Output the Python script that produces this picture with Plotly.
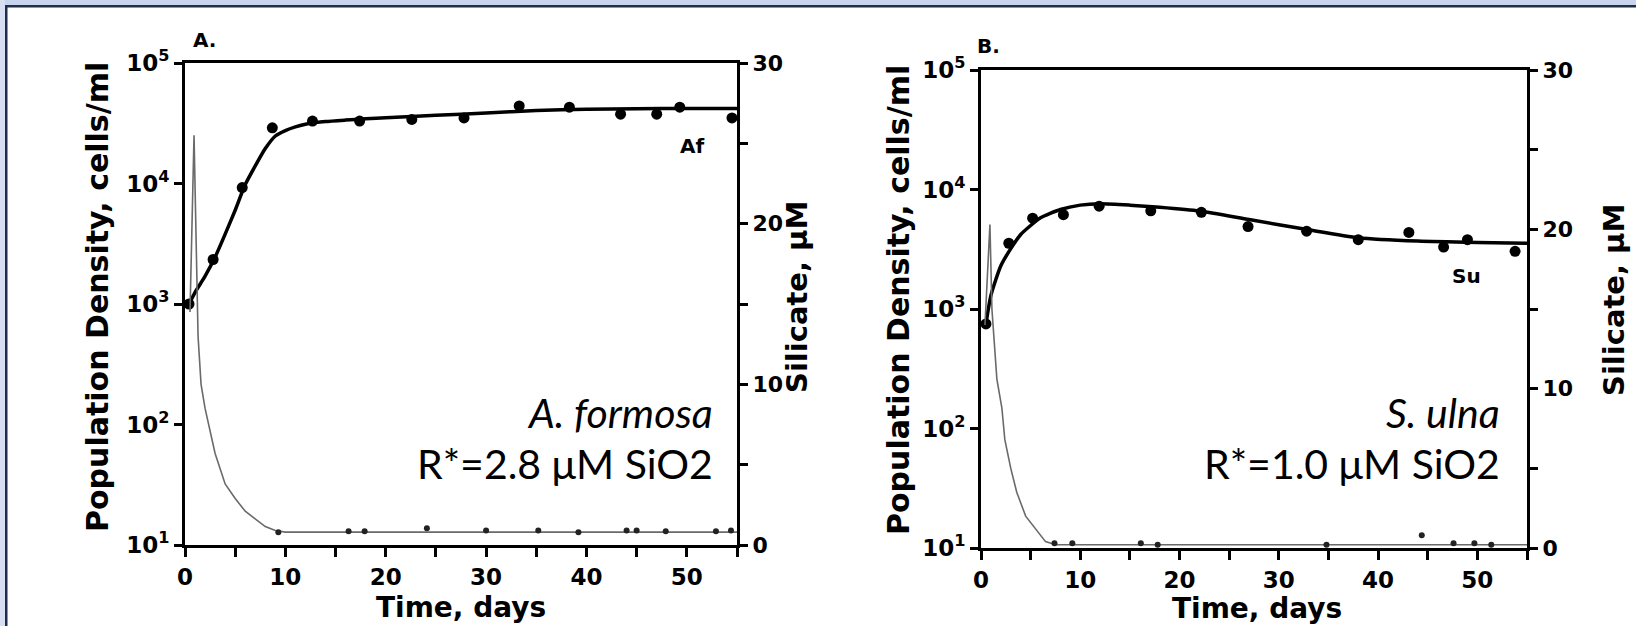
import plotly.graph_objects as go

# ---------------- data ----------------
# Panel A: Asterionella formosa
a_pt_days = [0.4, 2.8, 5.7, 8.7, 12.7, 17.4, 22.6, 27.8, 33.3, 38.3, 43.4, 47.0, 49.3, 54.5]
a_pt_cells = [1000, 2340, 9250, 29000, 33000, 33000, 34000, 35000, 44000, 43000, 37600, 37600, 43000, 35000]
a_fit_days = [0.4, 1, 2, 3, 4, 5, 6, 7, 8, 9, 10, 11, 12, 13, 14, 16, 18, 20, 25, 30, 35, 40, 45, 50, 55]
a_fit_cells = [1000, 1250, 1700, 2450, 3800, 6000, 9800, 14000, 19500, 24800, 27500, 29500, 31000,
               32000, 32700, 33600, 34400, 35100, 36800, 38500, 40300, 41300, 41800, 42000, 42000]
a_si_days = [0.5, 0.9, 1.3, 1.6, 2.0, 2.6, 3.0, 4.0, 5.0, 6.0, 7.0, 8.0, 9.0, 10.0, 20.0, 55.0]
a_si_vals = [14.5, 25.5, 13.0, 10.0, 8.5, 6.8, 5.7, 3.8, 2.9, 2.1, 1.6, 1.15, 0.9, 0.8, 0.8, 0.8]
a_si_pt_days = [9.3, 16.3, 17.9, 24.1, 30.0, 35.2, 39.2, 44.0, 45.0, 47.9, 52.9, 54.4]
a_si_pt_vals = [0.8, 0.85, 0.85, 1.05, 0.9, 0.9, 0.8, 0.9, 0.9, 0.85, 0.85, 0.9]

# Panel B: Synedra ulna
b_pt_days = [0.5, 2.8, 5.2, 8.3, 11.9, 17.1, 22.2, 26.9, 32.8, 38.0, 43.1, 46.6, 49.0, 53.8]
b_pt_cells = [750, 3550, 5750, 6150, 7250, 6630, 6440, 4900, 4480, 3800, 4370, 3300, 3800, 3040]
b_fit_days = [0.5, 1, 2, 3, 4, 5, 6, 8, 10, 12, 15, 18, 22, 27, 33, 38, 44, 50, 55]
b_fit_cells = [750, 1300, 2300, 3200, 4200, 5000, 5800, 6800, 7400, 7600, 7400, 7100, 6600,
               5600, 4600, 3950, 3700, 3600, 3550]
b_si_days = [0.4, 0.9, 1.1, 1.6, 2.1, 2.4, 3.0, 3.6, 4.5, 5.8, 6.5, 7.5, 55.0]
b_si_vals = [14.0, 20.3, 15.0, 10.6, 8.8, 6.8, 5.0, 3.5, 2.0, 1.0, 0.4, 0.2, 0.2]
b_si_pt_days = [7.4, 9.2, 16.1, 17.8, 34.8, 44.4, 47.6, 49.7, 51.4]
b_si_pt_vals = [0.3, 0.3, 0.3, 0.2, 0.2, 0.8, 0.3, 0.3, 0.2]

x_tick_vals = [0, 10, 20, 30, 40, 50]
x_tick_text = ["0", "10", "20", "30", "40", "50"]
x_minor_vals = [5, 15, 25, 35, 45, 55]
y_tick_vals = [10, 100, 1000, 10000, 100000]
y_tick_text = ["10<sup>1</sup>", "10<sup>2</sup>", "10<sup>3</sup>", "10<sup>4</sup>", "10<sup>5</sup>"]
si_tick_vals = [0, 10, 20, 30]
si_tick_text = ["0", "10", "20", "30"]
si_minor_vals = [5, 15, 25]

# ---------------- figure ----------------
W, H = 1636, 626
TICKFONT = dict(family="DejaVu Sans", size=23, color="black", weight=700)
SITICKFONT = dict(family="DejaVu Sans", size=22, color="black", weight=700)
fig = go.Figure()

def add_panel(xa, ya, ya2, fit_d, fit_c, pt_d, pt_c, si_d, si_v, sip_d, sip_v):
    fig.add_trace(go.Scatter(x=si_d, y=si_v, mode="lines", xaxis=xa, yaxis=ya2,
                             line=dict(color="#6a6a6a", width=1.6), showlegend=False))
    fig.add_trace(go.Scatter(x=sip_d, y=sip_v, mode="markers", xaxis=xa, yaxis=ya2,
                             marker=dict(color="#222", size=6), showlegend=False))
    fig.add_trace(go.Scatter(x=fit_d, y=fit_c, mode="lines", xaxis=xa, yaxis=ya,
                             line=dict(color="black", width=3.5, shape="spline", smoothing=0.6),
                             showlegend=False))
    fig.add_trace(go.Scatter(x=pt_d, y=pt_c, mode="markers", xaxis=xa, yaxis=ya,
                             marker=dict(color="black", size=11), showlegend=False))

add_panel("x", "y", "y2", a_fit_days, a_fit_cells, a_pt_days, a_pt_cells,
          a_si_days, a_si_vals, a_si_pt_days, a_si_pt_vals)
add_panel("x2", "y3", "y4", b_fit_days, b_fit_cells, b_pt_days, b_pt_cells,
          b_si_days, b_si_vals, b_si_pt_days, b_si_pt_vals)

def px(v):
    return v / W

def py(v):
    return 1 - v / H

common_x = dict(range=[0, 55], showline=True, linewidth=3, linecolor="black", mirror=True,
                ticks="outside", ticklen=9, tickwidth=3, tickcolor="black",
                tickmode="array", tickvals=x_tick_vals, ticktext=x_tick_text, tickfont=TICKFONT,
                minor=dict(tickmode="array", tickvals=x_minor_vals, ticks="outside", ticklen=9,
                           tickwidth=3, tickcolor="black", showgrid=False),
                showgrid=False, zeroline=False, automargin=False)
common_y = dict(type="log", range=[1, 5], showline=True, linewidth=3, linecolor="black",
                ticks="outside", ticklen=8, tickwidth=3, tickcolor="black",
                tickmode="array", tickvals=y_tick_vals, ticktext=y_tick_text, tickfont=TICKFONT,
                showgrid=False, zeroline=False, automargin=False)
common_si = dict(range=[0, 30], showline=True, linewidth=3, linecolor="black", side="right",
                 ticks="outside", ticklen=8, tickwidth=3, tickcolor="black",
                 tickmode="array", tickvals=si_tick_vals, ticktext=si_tick_text, tickfont=SITICKFONT,
                 minor=dict(tickmode="array", tickvals=si_minor_vals, ticks="outside", ticklen=8,
                            tickwidth=3, tickcolor="black", showgrid=False),
                 showgrid=False, zeroline=False, automargin=False)

fig.update_layout(
    width=W, height=H, margin=dict(l=0, r=0, t=0, b=0, pad=0, autoexpand=False),
    paper_bgcolor="white", plot_bgcolor="white",
    xaxis=dict(domain=[px(185), px(737)], anchor="y", **common_x),
    yaxis=dict(domain=[py(545), py(63)], anchor="x", **common_y),
    yaxis2=dict(overlaying="y", anchor="x", **common_si),
    xaxis2=dict(domain=[px(981), px(1527)], anchor="y3", **common_x),
    yaxis3=dict(domain=[py(548), py(70)], anchor="x2", **common_y),
    yaxis4=dict(overlaying="y3", anchor="x2", **common_si),
)

YTITLEFONT = dict(family="DejaVu Sans", size=30, color="black", weight=700)
SITITLEFONT = dict(family="DejaVu Sans", size=29, color="black", weight=700)
XTITLEFONT = dict(family="DejaVu Sans", size=28, color="black", weight=700)
NOTEFONT = dict(family="Lato", size=41, color="black")
ann = []
def A(x, y, text, font, angle=0, xanchor="center", yanchor="middle"):
    ann.append(dict(xref="paper", yref="paper", x=px(x), y=py(y), text=text, showarrow=False,
                    font=font, textangle=angle, xanchor=xanchor, yanchor=yanchor, borderpad=0))

# panel letters
A(192, 40, "A.", dict(family="DejaVu Sans", size=20, color="black", weight=700), xanchor="left")
A(976, 46, "B.", dict(family="DejaVu Sans", size=20, color="black", weight=700), xanchor="left")
# axis titles
A(97, 297, "Population Density, cells/ml", YTITLEFONT, angle=-90)
A(797, 297, "Silicate, \u03bcM", SITITLEFONT, angle=-90)
A(898, 300, "Population Density, cells/ml", YTITLEFONT, angle=-90)
A(1614, 300, "Silicate, \u03bcM", SITITLEFONT, angle=-90)
A(461, 607, "Time, days", XTITLEFONT)
A(1257, 608, "Time, days", XTITLEFONT)
# curve labels
A(692, 146, "Af", dict(family="DejaVu Sans", size=20, color="black", weight=700))
A(1466, 276, "Su", dict(family="DejaVu Sans", size=20, color="black", weight=700))
# species notes (first line sits on top of the second)
A(714, 438, "<i>A. formosa</i>", NOTEFONT, xanchor="right", yanchor="bottom")
A(714, 438, "R*=2.8 \u03bcM SiO2", NOTEFONT, xanchor="right", yanchor="top")
A(1501, 438, "<i>S. ulna</i>", NOTEFONT, xanchor="right", yanchor="bottom")
A(1501, 438, "R*=1.0 \u03bcM SiO2", NOTEFONT, xanchor="right", yanchor="top")
fig.update_layout(annotations=ann)

# slide frame: light blue band and dark border on top and left
fig.update_layout(shapes=[
    dict(type="rect", xref="paper", yref="paper", x0=0, x1=1, y0=py(5), y1=1,
         fillcolor="#c6d4ee", line=dict(width=0), layer="above"),
    dict(type="rect", xref="paper", yref="paper", x0=0, x1=px(5), y0=0, y1=1,
         fillcolor="#d6e0f2", line=dict(width=0), layer="above"),
    dict(type="rect", xref="paper", yref="paper", x0=px(5), x1=1, y0=py(7.5), y1=py(5),
         fillcolor="#1f2d4a", line=dict(width=0), layer="above"),
    dict(type="rect", xref="paper", yref="paper", x0=px(5), x1=px(7.5), y0=0, y1=py(5),
         fillcolor="#1f2d4a", line=dict(width=0), layer="above"),
])

fig.write_html("out.html")
